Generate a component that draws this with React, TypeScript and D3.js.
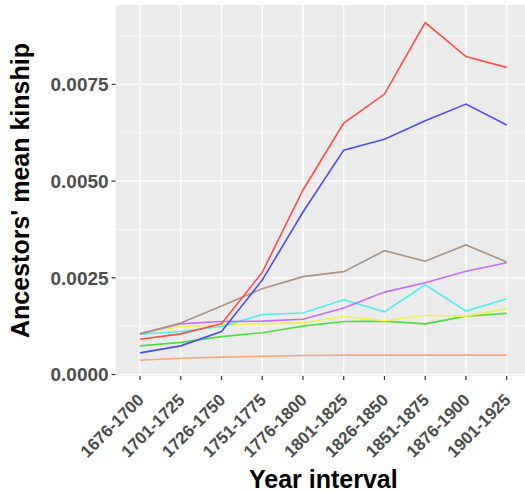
import React from "react";
import * as d3 from "d3";

const intervals = ["1676-1700","1701-1725","1726-1750","1751-1775","1776-1800","1801-1825","1826-1850","1851-1875","1876-1900","1901-1925"];
const redSeries = [0.00091,0.00105,0.00131,0.00264,0.00477,0.00650,0.00725,0.00910,0.00822,0.00794];
const blueSeries = [0.00056,0.00074,0.00111,0.00244,0.00420,0.00580,0.00608,0.00656,0.00699,0.00645];
const brownSeries = [0.00105,0.00133,0.00177,0.00222,0.00253,0.00266,0.00320,0.00293,0.00335,0.00291];
const purpleSeries = [0.00105,0.00131,0.00137,0.00138,0.00143,0.00172,0.00213,0.00237,0.00267,0.00289];
const cyanSeries = [0.00104,0.00111,0.00124,0.00155,0.00159,0.00193,0.00162,0.00232,0.00164,0.00196];
const yellowSeries = [0.00107,0.00124,0.00128,0.00131,0.00134,0.00150,0.00139,0.00153,0.00151,0.00170];
const greenSeries = [0.00074,0.00083,0.00098,0.00108,0.00125,0.00137,0.00138,0.00131,0.00151,0.00158];
const orangeSeries = [0.00037,0.00042,0.00045,0.00047,0.00049,0.00050,0.00050,0.00050,0.00050,0.00050];
const yTicks = [0, 0.0025, 0.005, 0.0075];
const yMinor = [0.00125, 0.00375, 0.00625, 0.00875];

const seriesList = [
  { name: "orange", values: orangeSeries, color: "#f8a878" },
  { name: "green", values: greenSeries, color: "#4ee040" },
  { name: "yellow", values: yellowSeries, color: "#f2f244" },
  { name: "cyan", values: cyanSeries, color: "#4cf0f0" },
  { name: "purple", values: purpleSeries, color: "#c46cff" },
  { name: "brown", values: brownSeries, color: "#a89484" },
  { name: "blue", values: blueSeries, color: "#4c4cff" },
  { name: "red", values: redSeries, color: "#ff4c4c" },
];

export default function App() {
  const W = 525, H = 493;
  const left = 115.6, right = 531, top = 5, bottom = 376;
  const x = d3.scalePoint<string>().domain(intervals).range([140, 506.7]);
  const y = d3.scaleLinear().domain([0, 0.0075]).range([374.5, 84.4]);
  const line = d3.line<number>().x((_, i) => x(intervals[i]) as number).y((v) => y(v));
  const fmt = d3.format(".4f");
  return (
    <svg width={W} height={H} style={{ position: "absolute", left: 0, top: 0, fontFamily: "'Liberation Sans', Arial, sans-serif" }}>
      <rect x={left} y={top} width={right - left} height={bottom - top} fill="#ebebeb" />
      {yMinor.map((t) => (
        <line key={"m" + t} x1={left} x2={right} y1={y(t)} y2={y(t)} stroke="#fff" strokeWidth={0.6} />
      ))}
      {yTicks.map((t) => (
        <line key={"g" + t} x1={left} x2={right} y1={y(t)} y2={y(t)} stroke="#fff" strokeWidth={1.2} />
      ))}
      {intervals.map((c) => (
        <line key={"v" + c} x1={x(c)} x2={x(c)} y1={top} y2={bottom} stroke="#fff" strokeWidth={1.2} />
      ))}
      {seriesList.map((s) => (
        <path key={s.name} d={line(s.values) || ""} fill="none" stroke={s.color} strokeWidth={1.6} />
      ))}
      {yTicks.map((t) => (
        <g key={"yt" + t}>
          <line x1={left - 4} x2={left} y1={y(t)} y2={y(t)} stroke="#333" strokeWidth={1.2} />
          <text x={left - 7} y={y(t)} dy="0.36em" textAnchor="end" fontSize={19} fontWeight="bold" fill="#4d4d4d">{fmt(t)}</text>
        </g>
      ))}
      {intervals.map((c) => (
        <g key={"xt" + c}>
          <line x1={x(c)} x2={x(c)} y1={bottom} y2={bottom + 4} stroke="#333" strokeWidth={1.2} />
          <text transform={`translate(${(x(c) as number) + 5},${bottom + 25}) rotate(-45)`} textAnchor="end" fontSize={17} fontWeight="bold" fill="#4d4d4d">{c}</text>
        </g>
      ))}
      <text x={(left + right) / 2} y={488} textAnchor="middle" fontSize={25} fontWeight="bold" fill="#000">Year interval</text>
      <text transform={`translate(29,${(top + bottom) / 2}) rotate(-90)`} textAnchor="middle" fontSize={25} fontWeight="bold" fill="#000">Ancestors' mean kinship</text>
    </svg>
  );
}
